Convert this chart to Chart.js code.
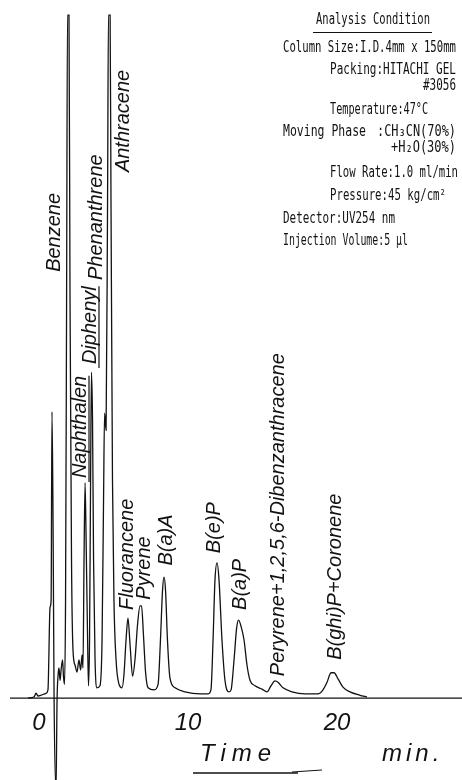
<!DOCTYPE html>
<html>
<head>
<meta charset="utf-8">
<script src="https://cdn.jsdelivr.net/npm/chart.js@4.4.1/dist/chart.umd.min.js"></script>
<style>
  html, body { margin: 0; padding: 0; background: #fff; }
  #wrap { width: 462px; height: 780px; position: relative; }
</style>
</head>
<body>
<div id="wrap"><canvas id="chromChart"></canvas></div>
<script>
// retention time (min) and detector signal (% of recorder full scale)
const times = [-0.74, -0.34, -0.20, -0.07, 0.47, 0.60, 0.74, 0.81, 0.87, 0.94, 1.01, 1.14, 1.21, 1.28, 1.34, 1.41, 1.48, 1.58, 1.64, 1.71,
    1.78, 1.85, 1.91, 2.01, 2.08, 2.18, 2.28, 2.42, 2.55, 2.68, 2.79, 2.89, 2.95, 3.02, 3.09, 3.15, 3.26, 3.32, 3.39, 3.46,
    3.52, 3.59, 3.66, 3.76, 3.89, 4.09, 4.23, 4.33, 4.40, 4.50, 4.60, 4.66, 4.77, 4.83, 4.93, 5.03, 5.17, 5.37, 5.57, 5.70,
    5.84, 5.97, 6.11, 6.28, 6.44, 6.61, 6.78, 6.88, 7.01, 7.15, 7.32, 7.72, 7.99, 8.15, 8.29, 8.39, 8.49, 8.62, 8.79, 9.13,
    9.80, 10.81, 11.34, 11.54, 11.68, 11.81, 11.95, 12.08, 12.28, 12.48, 12.75, 12.89, 13.09, 13.26, 13.39, 13.56, 13.76, 13.96, 14.16, 14.50,
    14.97, 15.30, 15.57, 15.84, 16.04, 16.38, 16.98, 17.85, 18.72, 19.06, 19.33, 19.60, 19.80, 20.07, 20.40, 20.87, 21.54, 22.01];
const signal = [0, 0.15, 0.7, 0.3, 0.7, 1.2, 13.3, 14.3, 41.9, 26.1, 0, -13.5, -0.3, 3.4, 4.4, 2.6, 4.1, 5.6, 3.2, 2.0,
    14.3, 58.3, 100, 100, 58.3, 20.2, 7.0, 4.8, 3.8, 5.6, 4.1, 6.3, 4.4, 20.2, 31.5, 24.6, 8.5, 1.8, 8.5, 31.9,
    47.7, 40.7, 20.2, 5.6, 1.5, 1.8, 8.5, 29.0, 41.7, 39.2, 72.9, 100, 100, 72.9, 31.9, 14.3, 5.6, 2.0, 1.5, 3.4,
    8.5, 11.7, 7.8, 3.2, 5.6, 10.7, 13.5, 13.5, 9.2, 3.8, 1.5, 1.2, 2.0, 8.5, 15.8, 17.7, 15.8, 8.5, 2.9, 1.5,
    0.9, 0.6, 0.6, 1.2, 8.5, 17.3, 19.8, 17.3, 8.5, 2.6, 0.9, 1.2, 5.6, 10.2, 11.4, 10.5, 8.5, 4.8, 2.6, 1.8,
    1.3, 0.9, 1.8, 2.5, 2.3, 1.5, 0.9, 0.6, 0.6, 1.2, 2.3, 3.7, 3.7, 2.8, 1.6, 0.9, 0.4, 0.15];

// peak names and where their (rotated) labels start
const peakNames = ['Benzene', 'Naphthalen', 'Diphenyl', 'Phenanthrene', 'Anthracene', 'Fluorancene', 'Pyrene', 'B(a)A',
    'B(e)P', 'B(a)P', 'Peryrene+1,2,5,6-Dibenzanthracene', 'B(ghi)P+Coronene'];
const labelTimes = [1.01, 2.75, 3.42, 3.83, 5.64, 5.91, 7.05, 8.52, 11.74, 13.49, 16.04, 19.87];
const labelLevels = [62.4, 32.2, 48.9, 61.2, 77.0, 12.9, 14.4, 19.4, 21.2, 12.9, 3.2, 5.6];
const underlined = ['Naphthalen', 'Diphenyl'];

const tickValues = [0, 10, 20];
const axisSpan = [-1.95, 28.4];

const conditionTitle = 'Analysis Condition';
const conditionLines = [
    ['Column Size:I.D.4mm x 150mm', 283, 48, 173],
    ['Packing:HITACHI GEL', 330, 70, 126],
    ['#3056', 423, 86, 33],
    ['Temperature:47°C', 330, 110, 98],
    ['Moving Phase', 283, 132, 83],
    [':CH₃CN(70%)', 377, 132, 79],
    ['+H₂O(30%)', 391, 148, 65],
    ['Flow Rate:1.0 ml/min', 330, 173, 128],
    ['Pressure:45 kg/cm²', 330, 196, 116],
    ['Detector:UV254 nm', 283, 219, 112],
    ['Injection Volume:5 µl', 283, 241, 125]
];

const ink = '#121212';

const annotations = {
    id: 'annotations',
    afterDraw(chart) {
        const c = chart.ctx;
        const xs = chart.scales.x;
        const ys = chart.scales.y;
        c.save();
        c.fillStyle = ink;
        c.strokeStyle = ink;

        // rotated peak labels
        c.font = 'italic 20px "Liberation Sans", Arial, sans-serif';
        c.textAlign = 'left';
        c.textBaseline = 'middle';
        c.lineWidth = 1.2;
        peakNames.forEach((name, i) => {
            c.save();
            c.translate(xs.getPixelForValue(labelTimes[i]), ys.getPixelForValue(labelLevels[i]));
            c.rotate(-Math.PI / 2);
            c.fillText(name, 0, 0);
            if (underlined.includes(name)) {
                const w = c.measureText(name).width;
                c.beginPath();
                c.moveTo(-4, 9);
                c.lineTo(w, 9);
                c.stroke();
            }
            c.restore();
        });

        // analysis condition block
        c.font = '15px "DejaVu Sans Mono", monospace';
        c.textBaseline = 'middle';
        c.fillText(conditionTitle, 316, 20, 114);
        c.lineWidth = 1.2;
        c.beginPath();
        c.moveTo(313, 32.5);
        c.lineTo(432, 32.5);
        c.stroke();
        conditionLines.forEach(([text, x, y, w]) => c.fillText(text, x, y, w));

        // axis caption
        c.textBaseline = 'alphabetic';
        c.font = 'italic 24px "Liberation Sans", Arial, sans-serif';
        c.letterSpacing = '6px';
        c.fillText('Time', 200, 761);
        c.letterSpacing = '4px';
        c.fillText('min.', 382, 761);
        c.letterSpacing = '0px';
        c.lineWidth = 1.6;
        c.beginPath();
        c.moveTo(193, 773);
        c.lineTo(298, 773);
        c.stroke();
        c.lineWidth = 1;
        c.beginPath();
        c.moveTo(292, 772);
        c.lineTo(322, 770);
        c.stroke();
        c.restore();
    }
};

document.addEventListener('DOMContentLoaded', () => {
    const ctx = document.getElementById('chromChart');
    new Chart(ctx, {
        type: 'scatter',
        data: {
            datasets: [{
                label: 'UV254',
                data: times.map((t, i) => ({ x: t, y: signal[i] })),
                showLine: true,
                borderColor: ink,
                borderWidth: 1.3,
                pointRadius: 0,
                cubicInterpolationMode: 'monotone'
            }, {
                label: 'baseline',
                data: axisSpan.map(t => ({ x: t, y: 0 })),
                showLine: true,
                borderColor: ink,
                borderWidth: 1.2,
                pointRadius: 0
            }]
        },
        options: {
            responsive: true,
            maintainAspectRatio: false,
            animation: false,
            layout: { padding: 0 },
            plugins: {
                legend: { display: false },
                tooltip: { enabled: false }
            },
            scales: {
                x: {
                    type: 'linear',
                    min: -2.62,
                    max: 28.39,
                    position: { y: 0 },
                    grid: { display: false, drawTicks: false },
                    border: { display: false },
                    afterBuildTicks: scale => {
                        scale.ticks = tickValues.map(v => ({ value: v }));
                    },
                    ticks: {
                        padding: 11,
                        color: ink,
                        font: { family: '"Liberation Sans", Arial, sans-serif', size: 24, style: 'italic' }
                    }
                },
                y: {
                    display: false,
                    min: -12,
                    max: 102.2
                }
            }
        },
        plugins: [annotations]
    });
});
</script>
</body>
</html>
